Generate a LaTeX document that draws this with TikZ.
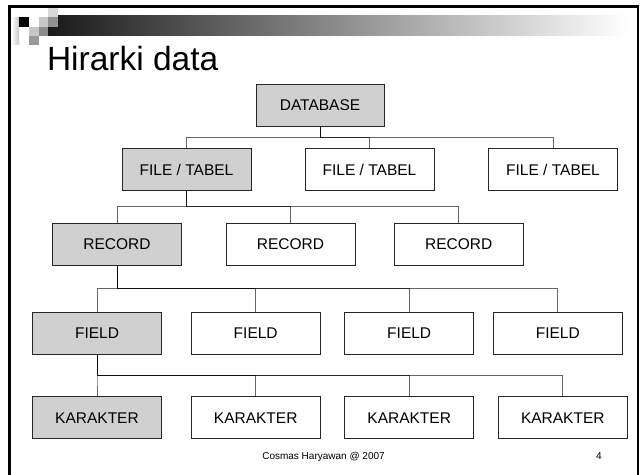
\documentclass[tikz,border=0pt]{standalone}
\usepackage{fontspec}
\setmainfont{Liberation Sans}
\definecolor{hl}{RGB}{208,208,208}
\begin{document}
\begin{tikzpicture}[x=1pt,y=-1pt,
  box/.style={draw=black!85, line width=0.9pt, minimum width=129pt, minimum height=42pt,
    inner sep=0pt, outer sep=0pt, text height=11.1pt, text depth=0pt, fill=white,
    font=\fontsize{15.5}{18}\selectfont},
  hi/.style={box, fill=hl},
  conn/.style={draw=black, draw opacity=0.6, line width=0.8pt},
  sq/.style={draw=none}]
\useasboundingbox (0,0) rectangle (644,474);
\fill[white] (0,0) rectangle (644,474);
% header decoration
\shade[left color=black!90, right color=white] (48,15.8) rectangle (628,35.6);
\shade[left color=white, right color=black!22] (11.5,17.3) rectangle (19,44.5);
\fill[black!15] (48,8) rectangle (57.5,17.3);
\fill[black] (19,17.3) rectangle (28.8,26.8);
\fill[white] (28.8,17.3) rectangle (38.8,26.8);
\fill[black!22] (38.8,17.3) rectangle (48,26.8);
\fill[black!43] (48,17.3) rectangle (57.5,26.8);
\fill[black!22] (28.8,26.8) rectangle (38.8,35.6);
\fill[black!45] (38.8,26.8) rectangle (48,35.6);
\fill[black!40] (28.8,35.6) rectangle (38.8,44.5);
% frame
\draw[line width=2.6pt] (9.7,480) -- (9.7,6.2) -- (638,6.2) -- (638,480);
% title
\node[anchor=base west, inner sep=0pt, font=\fontsize{33.5}{38}\selectfont] (title) at (46.8,70) {Hirarki data};
% bus levels
\coordinate (b1) at (0,137.3);
\coordinate (b2) at (0,206.7);
\coordinate (b3) at (0,288.7);
\coordinate (b4) at (0,375.3);
% nodes
\node[hi, minimum width=128pt] (db) at (320,105) {DATABASE};
\node[hi]  (f1) at (186.5,169.5) {FILE / TABEL};
\node[box] (f2) at (369.5,169.5) {FILE / TABEL};
\node[box] (f3) at (553,169.5) {FILE / TABEL};
\node[hi]  (r1) at (117,244) {RECORD};
\node[box] (r2) at (290.5,244) {RECORD};
\node[box] (r3) at (458.7,244) {RECORD};
\node[hi]  (d1) at (97,333.2) {FIELD};
\node[box] (d2) at (255.7,333.2) {FIELD};
\node[box] (d3) at (409.2,333.2) {FIELD};
\node[box] (d4) at (557.8,333.2) {FIELD};
\node[hi]  (k1) at (97,417.5) {KARAKTER};
\node[box] (k2) at (255.7,417.5) {KARAKTER};
\node[box] (k3) at (409.2,417.5) {KARAKTER};
\node[box] (k4) at (562.8,417.5) {KARAKTER};
% connectors
\foreach \c in {f1,f2,f3} \draw[conn] (db.south) -- (db.south |- b1) -| (\c.north);
\foreach \c in {r1,r2,r3} \draw[conn] (f1.south) -- (f1.south |- b2) -| (\c.north);
\foreach \c in {d1,d2,d3,d4} \draw[conn] (r1.south) -- (r1.south |- b3) -| (\c.north);
\foreach \c in {k1,k2,k3,k4} \draw[conn] (d1.south) -- (d1.south |- b4) -| (\c.north);
% footer
\node[anchor=base, inner sep=0pt, font=\fontsize{10}{12}\selectfont] (foot) at (323.5,459) {Cosmas Haryawan @ 2007};
\node[anchor=base, inner sep=0pt, font=\fontsize{10}{12}\selectfont] (page) at (599,459) {4};
\end{tikzpicture}
\end{document}
